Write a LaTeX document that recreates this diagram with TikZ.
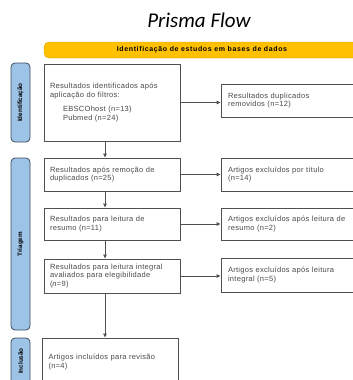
\documentclass[tikz,border=0pt]{standalone}
\usepackage{fontspec}
\setmainfont{Liberation Sans}
\newfontfamily\titlefont{Carlito}
\newfontfamily\boxfont[LetterSpace=4]{Liberation Sans}
\newfontfamily\barfont[LetterSpace=9]{Liberation Sans}
\usetikzlibrary{calc,arrows.meta,positioning}
\definecolor{barYellow}{HTML}{FFC000}
\definecolor{phaseBlue}{HTML}{9DC3E6}
\definecolor{phaseEdge}{HTML}{3E4D5E}
\definecolor{boxGrey}{HTML}{505050}
\definecolor{textGrey}{HTML}{4A4A4A}

\begin{document}
\begin{tikzpicture}[x=1pt,y=-1pt,>={Triangle[length=4pt,width=3.5pt]}]

\tikzset{leftbox/.style={draw=boxGrey,line width=0.9pt,fill=white,minimum width=136pt,text width=124pt,inner xsep=6pt,inner ysep=2pt,align=left,text=textGrey,font=\boxfont\fontsize{7.5}{8.3}\selectfont},
rightbox/.style={leftbox,minimum width=150pt,text width=136pt,inner xsep=7pt},
phase/.style={draw=phaseEdge,line width=0.8pt,fill=phaseBlue,rounded corners=4pt,minimum height=19pt,inner sep=0pt,rotate=90,font=\bfseries\fontsize{6.3}{7}\selectfont},
topbar/.style={fill=barYellow,draw=barYellow!85!black,rounded corners=5pt,minimum width=316pt,minimum height=16pt,inner sep=0pt,font=\barfont\bfseries\fontsize{7}{8}\selectfont},
link/.style={boxGrey,line width=0.9pt,->}}

\useasboundingbox (0,0) rectangle (353,380);
\clip (0,0) rectangle (353,380);

% Title and top bar
\node[anchor=base,font=\titlefont\itshape\fontsize{21}{24}\selectfont] (title) at (199,27.3) {Prisma Flow};
\node[topbar] (bar) at (202,50) {Identificação de estudos em bases de dados};

% Phase labels
\node[phase,minimum width=79pt] (pid) at (20.5,102.5) {Identificação};
\node[phase,minimum width=172pt] (ptri) at (20.5,244) {Triagem};
\node[phase,minimum width=46pt] (pinc) at (20.5,361) {Inclusão};

% Main column
\node[leftbox,minimum height=77pt] (id) at (112,102.5) {Resultados identificados após\\aplicação do filtros:\\[6.5pt]
\hspace*{13pt}EBSCOhost (n=13)\\\hspace*{13pt}Pubmed (n=24)};
\node[leftbox,minimum height=33pt] (rem) at (112,174.5) {Resultados após remoção de\\duplicados (n=25)};
\node[leftbox,minimum height=32pt] (res) at (112,224) {Resultados para leitura de\\resumo (n=11)};
\node[leftbox,minimum height=34pt] (int) at (112,276) {Resultados para leitura integral\\avaliados para elegibilidade\\(\textit{n}=9)};
\node[leftbox,minimum width=135pt,minimum height=48pt] (inc) at (110.5,362) {Artigos incluídos para revisão\\(n=4)};

% Excluded column
\node[rightbox,minimum height=33pt] (dup) at (296,100.5) {Resultados duplicados\\removidos (n=12)};
\node[rightbox,minimum height=33pt] (tit) at (296,174.5) {Artigos excluídos por título\\(n=14)};
\node[rightbox,minimum height=32pt] (sum) at (296,224) {Artigos excluídos após leitura de\\resumo (n=2)};
\node[rightbox,minimum height=34pt] (full) at (296,275) {Artigos excluídos após leitura\\integral (n=5)};

% Connectors
\coordinate (spine) at (105,0);
\foreach \a/\b in {id/rem,rem/res,res/int,int/inc} \draw[link] (\a.south -| spine) -- (\b.north -| spine);
\foreach \a/\b in {id/dup,rem/tit,res/sum,int/full} \draw[link] (\a.east) -- (\a.east -| \b.west);

\end{tikzpicture}
\end{document}
